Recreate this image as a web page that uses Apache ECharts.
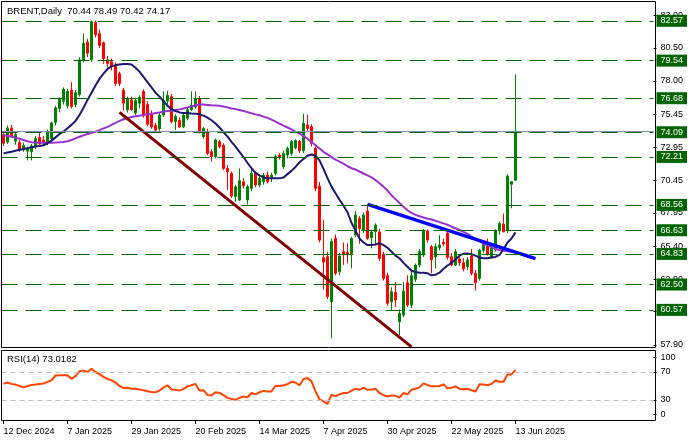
<!DOCTYPE html>
<html><head><meta charset="utf-8">
<script src="https://cdn.jsdelivr.net/npm/echarts@6/dist/echarts.min.js"></script>
<style>html,body{margin:0;padding:0;background:#fff}#c{width:695px;height:442px}</style>
</head><body><div id="c"></div>
<script>
// ---------- data ----------
const titleText = 'BRENT,Daily  70.44 78.49 70.42 74.17';
const rsiTitle = 'RSI(14) 73.0182';
// daily bars: [open, high, low, close]
const ohlc = [
[73.90,74.15,73.05,73.25],[73.35,74.60,73.20,74.40],[74.40,74.65,73.70,73.80],[73.40,74.10,73.15,73.90],[73.30,73.50,72.60,72.75],
[72.80,73.30,72.60,73.10],[72.65,73.00,71.95,72.90],[72.60,73.20,71.95,73.05],[73.00,73.80,72.80,73.60],[73.70,74.05,73.00,73.20],
[73.50,73.80,73.10,73.30],[73.30,74.30,73.10,74.15],[73.60,74.90,73.40,74.80],[74.85,76.10,74.60,75.95],[75.90,76.75,75.60,76.60],
[76.45,77.50,76.20,77.35],[76.10,77.40,75.90,77.20],[77.30,77.90,75.90,76.05],[76.20,77.30,76.00,77.10],[76.95,79.80,76.80,79.60],
[79.60,81.60,79.40,80.85],[80.95,81.20,79.80,80.10],[79.60,82.60,79.45,82.50],[82.45,82.60,81.30,81.50],[81.60,81.90,80.50,80.70],
[80.90,81.00,79.30,79.70],[79.60,79.90,79.00,79.33],[79.45,79.70,78.80,79.07],[79.20,79.40,77.60,77.80],[78.55,78.70,77.60,77.80],
[77.30,77.45,75.75,76.30],[75.80,76.80,75.60,76.65],[76.55,76.80,75.70,75.80],[75.55,76.70,75.40,76.50],[76.30,76.90,75.90,76.75],
[77.20,77.35,75.20,75.35],[76.20,76.45,74.55,74.70],[75.50,75.75,74.35,74.50],[74.60,74.80,74.10,74.25],[74.35,75.55,74.20,75.40],
[75.40,77.20,75.25,76.50],[76.45,77.25,76.20,76.90],[76.80,77.00,74.75,74.90],[74.90,75.45,74.25,75.30],[75.00,75.20,74.40,74.50],
[74.50,75.55,74.40,75.40],[75.15,75.95,75.00,75.80],[75.80,77.20,75.70,76.15],[76.00,77.20,75.90,76.65],[76.65,76.85,74.00,74.13],
[73.75,74.50,73.60,74.38],[74.13,74.35,72.35,72.48],[72.60,72.80,71.85,72.23],[72.23,73.60,72.10,73.50],[73.37,73.50,72.85,72.99],
[73.10,73.25,71.20,71.34],[71.34,71.60,69.70,71.08],[70.96,71.10,69.10,69.23],[69.20,70.10,68.80,69.94],[68.93,71.34,68.85,70.40],
[70.32,70.60,69.80,70.00],[68.93,70.10,68.60,69.94],[69.82,71.34,69.60,70.96],[70.96,71.10,69.90,70.07],[70.07,70.75,69.90,70.58],
[70.32,71.00,70.10,70.83],[70.83,71.10,70.20,70.32],[70.58,71.00,70.30,70.83],[70.96,72.40,70.80,72.23],[72.35,72.50,72.00,72.23],
[71.46,72.70,71.30,72.48],[72.35,73.00,72.10,72.86],[72.48,73.50,72.30,73.37],[72.90,73.55,72.80,73.45],[73.40,73.50,72.50,72.70],
[72.70,75.50,72.50,74.76],[74.64,75.40,74.20,74.38],[74.50,74.70,73.00,73.24],[72.86,73.20,69.60,69.82],[69.99,70.30,65.70,65.88],
[64.54,67.40,62.10,64.21],[64.62,65.00,61.40,61.57],[61.19,66.00,58.40,65.76],[66.00,66.30,63.20,63.35],[63.47,64.90,63.20,64.67],
[65.00,65.70,64.00,64.82],[64.95,65.63,64.11,64.80],[64.87,66.10,63.73,66.01],[66.27,68.10,66.10,67.79],[67.53,67.70,65.60,66.77],
[66.65,68.00,66.40,67.79],[68.09,68.60,65.90,66.01],[66.06,66.60,65.25,66.50],[66.52,67.15,65.50,67.03],[66.50,66.75,64.30,64.49],
[64.80,65.00,62.80,62.97],[63.17,63.40,60.90,61.07],[61.20,62.30,60.50,61.95],[61.90,62.70,60.80,61.32],[59.67,60.60,58.66,60.30],
[60.18,62.70,60.00,62.00],[62.64,63.20,60.80,60.94],[60.94,63.70,60.70,63.17],[62.90,64.10,62.70,63.98],[63.98,65.20,63.80,65.00],
[64.75,66.72,64.60,66.57],[66.57,66.70,65.70,65.90],[65.38,65.50,63.35,64.40],[64.60,65.63,63.73,65.38],[65.30,66.25,65.10,65.50],
[65.70,66.00,65.40,65.60],[66.40,66.50,64.40,64.57],[64.62,64.90,63.90,63.98],[63.98,65.20,63.90,65.00],[64.44,64.70,63.90,64.16],
[64.16,64.50,63.50,63.68],[63.86,64.60,63.60,64.37],[64.67,65.20,63.20,63.35],[63.35,63.60,62.03,62.64],[62.97,65.20,62.80,65.12],
[65.10,65.80,64.90,65.63],[65.50,66.00,64.70,64.80],[64.60,65.50,64.50,65.30],[65.20,66.70,65.00,66.60],[66.60,67.30,66.30,67.15],
[67.10,67.90,66.50,66.50],[66.60,70.90,66.40,70.76],[70.13,70.37,68.30,70.33],[70.44,78.49,70.42,74.17]
];
const maFast = [
72.48,72.55,72.6,72.68,72.75,72.8,72.88,72.95,73.0,73.05,
73.1,73.25,73.45,73.7,73.95,74.15,74.4,74.65,74.95,75.4,
75.95,76.55,77.1,77.65,78.15,78.55,78.9,79.1,79.2,79.25,
79.28,79.28,79.25,79.0,78.7,78.3,77.9,77.5,77.1,76.8,
76.45,76.1,75.85,75.7,75.6,75.55,75.55,75.52,75.5,75.45,
75.35,75.2,75.0,74.75,74.45,74.1,73.75,73.35,73.0,72.6,
72.2,71.75,71.35,71.0,70.8,70.65,70.58,70.58,70.58,70.58,
70.65,70.9,71.15,71.45,71.8,72.05,72.3,72.4,72.3,71.95,
71.3,70.6,69.95,69.45,68.95,68.5,68.0,67.2,66.6,66.0,
65.7,65.5,65.5,65.55,65.65,65.5,65.3,65.0,64.7,64.5,
64.15,63.85,63.55,63.45,63.4,63.4,63.35,63.2,63.25,63.4,
63.7,63.95,64.15,64.4,64.7,64.85,64.87,64.8,64.7,64.55,
64.5,64.5,64.55,64.6,64.75,65.2,65.7,66.0,66.47
];
const maSlow = [
73.88,73.82,73.75,73.68,73.6,73.5,73.4,73.33,73.3,73.29,
73.29,73.29,73.29,73.3,73.32,73.35,73.4,73.5,73.62,73.75,
73.85,73.95,74.04,74.13,74.25,74.38,74.5,74.65,74.8,74.95,
75.08,75.17,75.25,75.3,75.35,75.4,75.45,75.48,75.55,75.6,
75.65,75.7,75.73,75.78,75.83,75.9,75.98,76.05,76.15,76.21,
76.2,76.17,76.14,76.12,76.1,76.05,75.98,75.9,75.85,75.78,
75.7,75.62,75.53,75.45,75.38,75.28,75.18,75.05,74.9,74.75,
74.6,74.45,74.3,74.13,74.0,73.8,73.6,73.35,73.1,72.85,
72.6,72.4,72.2,72.0,71.85,71.7,71.5,71.35,71.25,71.1,
70.95,70.8,70.65,70.45,70.2,69.95,69.65,69.3,69.0,68.7,
68.42,68.15,67.95,67.8,67.7,67.6,67.5,67.45,67.35,67.25,
67.15,67.05,66.9,66.78,66.65,66.5,66.35,66.15,66.0,65.8,
65.6,65.5,65.35,65.2,65.13,65.08,65.03,65.0,64.97
];
const rsi = [
53.3,55,53,52,50,48,50,51.5,52,53,
53.5,56,58,65,65.5,65.5,65.5,60.5,64,71,
72,70,74.7,70,67,63,60,58,55,50,
47,47.5,46,46,45,44,42.5,41.5,41,43.5,
48,51,45,44.5,43.5,46,49.5,51,53,43.5,
44,37,36.6,41,40,37,33,31.4,30.5,33,
35,34,40,38,41,43,42,42.3,50.4,50,
51,52.5,56,55,51,60,61.4,56.6,42.3,31,
28,24.3,37.6,35.5,38,40,40,43.5,46,44.6,
47.6,44.6,45,46,40,37,35,36.6,36,33.3,
40,38,44.7,46,48,53.7,51.5,49.5,49.5,50,
52.4,46.6,47.5,49.5,46,45,46,44,41.9,52.4,
52,51,53,58,56,56,66.6,66.6,73.02
];
const levels = [82.57, 79.54, 76.68, 74.09, 72.21, 68.56, 66.63, 64.83, 62.50, 60.57];
const lastPrice = 74.17;
const priceTicks = [57.90, 60.45, 62.90, 65.40, 67.95, 70.45, 72.95, 75.45, 78.00, 80.50, 83.00];
const rsiLevels = [70, 30];
const rsiTickLabels = ['0', '30', '70', '100'];
const dateLabels = ['12 Dec 2024','7 Jan 2025','29 Jan 2025','20 Feb 2025','14 Mar 2025','7 Apr 2025','30 Apr 2025','22 May 2025','13 Jun 2025'];
const dateStep = 16;           // bars between date labels
const slotCount = 163;         // bar slots across the chart width (incl. empty future space)
const supportLine = [[29, 75.60], [102, 57.75]];
const resistLine  = [[91, 68.60], [133, 64.47]];

// ---------- chart ----------
const FONT = '"Liberation Sans", Arial, sans-serif';
const cats = Array.from({length: slotCount}, (_, i) => i);
const lastBar = ohlc.length - 1;
const showDate = (i) => i % dateStep === 0 && i <= lastBar;

const chart = echarts.init(document.getElementById('c'), null, {renderer: 'canvas'});
const option = {
  animation: false,
  backgroundColor: '#fff',
  grid: [
    {left: 1.5, top: 3, width: 652, height: 344},
    {left: 1.5, top: 351, width: 652, height: 70}
  ],
  xAxis: [
    {type: 'category', gridIndex: 0, data: cats, show: false, boundaryGap: true},
    {type: 'category', gridIndex: 1, data: cats, boundaryGap: true,
     axisLine: {show: false},
     axisTick: {show: true, alignWithLabel: true, length: 3, interval: (i) => showDate(i), lineStyle: {color: '#000'}},
     axisLabel: {show: true, interval: (i) => showDate(i), align: 'left', margin: 6,
       formatter: (v, i) => dateLabels[i / dateStep] || '', color: '#000', fontSize: 9, fontFamily: FONT}
    }
  ],
  yAxis: [
    {type: 'value', gridIndex: 0, position: 'right', min: 57.745, max: 83.925,
     axisLine: {show: false}, splitLine: {show: false},
     axisTick: {show: true, customValues: priceTicks, length: 3, lineStyle: {color: '#000'}},
     axisLabel: {customValues: priceTicks, formatter: (v) => v.toFixed(2), margin: 7, color: '#000', fontSize: 9, fontFamily: FONT}
    },
    {type: 'value', gridIndex: 1, position: 'right', min: 0, max: 100,
     axisLine: {show: false}, splitLine: {show: false},
     axisTick: {show: true, customValues: [9.4, 30, 70, 91.4], length: 3, lineStyle: {color: '#000'}},
     axisLabel: {customValues: [9.4, 30, 70, 91.4], margin: 7, color: '#000', fontSize: 9, fontFamily: FONT,
       formatter: (v) => v < 20 ? rsiTickLabels[0] : v < 50 ? rsiTickLabels[1] : v < 80 ? rsiTickLabels[2] : rsiTickLabels[3]}
    }
  ],
  graphic: [
    {type: 'rect', silent: true, z: 100, shape: {x: 1.5, y: 1.5, width: 654, height: 346}, style: {fill: 'none', stroke: '#000', lineWidth: 1}},
    {type: 'rect', silent: true, z: 100, shape: {x: 1.5, y: 350.5, width: 654, height: 70}, style: {fill: 'none', stroke: '#000', lineWidth: 1}},
    {type: 'text', silent: true, z: 100, x: 7, y: 11, style: {text: titleText, fill: '#000', font: '9.5px ' + FONT, verticalAlign: 'middle'}},
    {type: 'text', silent: true, z: 100, x: 7, y: 359.5, style: {text: rsiTitle, fill: '#000', font: '9.5px ' + FONT, verticalAlign: 'middle'}}
  ],
  series: [
    {
      type: 'candlestick', xAxisIndex: 0, yAxisIndex: 0,
      data: ohlc.map(([o, h, l, c]) => [o, c, l, h]),
      barWidth: 2,
      itemStyle: {color: '#008000', color0: '#ff0000', borderColor: '#008000', borderColor0: '#ff0000', borderWidth: 1},
      markLine: {
        silent: true, symbol: 'none', animation: false,
        data: levels.map(v => ({
          yAxis: v,
          lineStyle: {color: '#006400', type: [16, 8], width: 1},
          label: {show: true, position: 'end', distance: 3, formatter: v.toFixed(2), color: '#fff',
            backgroundColor: '#006400', padding: [1, 4, 1, 4], fontSize: 9, fontFamily: FONT, lineHeight: 10}
        })).concat([{
          yAxis: lastPrice,
          lineStyle: {color: '#8592a3', type: 'solid', width: 1},
          label: {show: false}
        }])
      }
    },
    {type: 'line', xAxisIndex: 0, yAxisIndex: 0, data: maSlow, showSymbol: false, symbol: 'none',
     lineStyle: {color: '#9932cc', width: 2}, z: 3},
    {type: 'line', xAxisIndex: 0, yAxisIndex: 0, data: maFast, showSymbol: false, symbol: 'none',
     lineStyle: {color: '#191970', width: 2}, z: 3},
    {type: 'line', xAxisIndex: 0, yAxisIndex: 0, data: supportLine, showSymbol: false, symbol: 'none',
     lineStyle: {color: '#800000', width: 3}, z: 4},
    {type: 'line', xAxisIndex: 0, yAxisIndex: 0, data: resistLine, showSymbol: false, symbol: 'none',
     lineStyle: {color: '#0000ff', width: 3.5}, z: 4},
    {type: 'line', xAxisIndex: 1, yAxisIndex: 1, data: rsi, showSymbol: false, symbol: 'none',
     lineStyle: {color: '#ff4500', width: 2},
     markLine: {silent: true, symbol: 'none', animation: false,
       data: rsiLevels.map(v => ({yAxis: v})),
       lineStyle: {color: '#c0c0c0', type: [5, 4], width: 1}, label: {show: false}}
    }
  ]
};
chart.setOption(option);
</script>
</body></html>
